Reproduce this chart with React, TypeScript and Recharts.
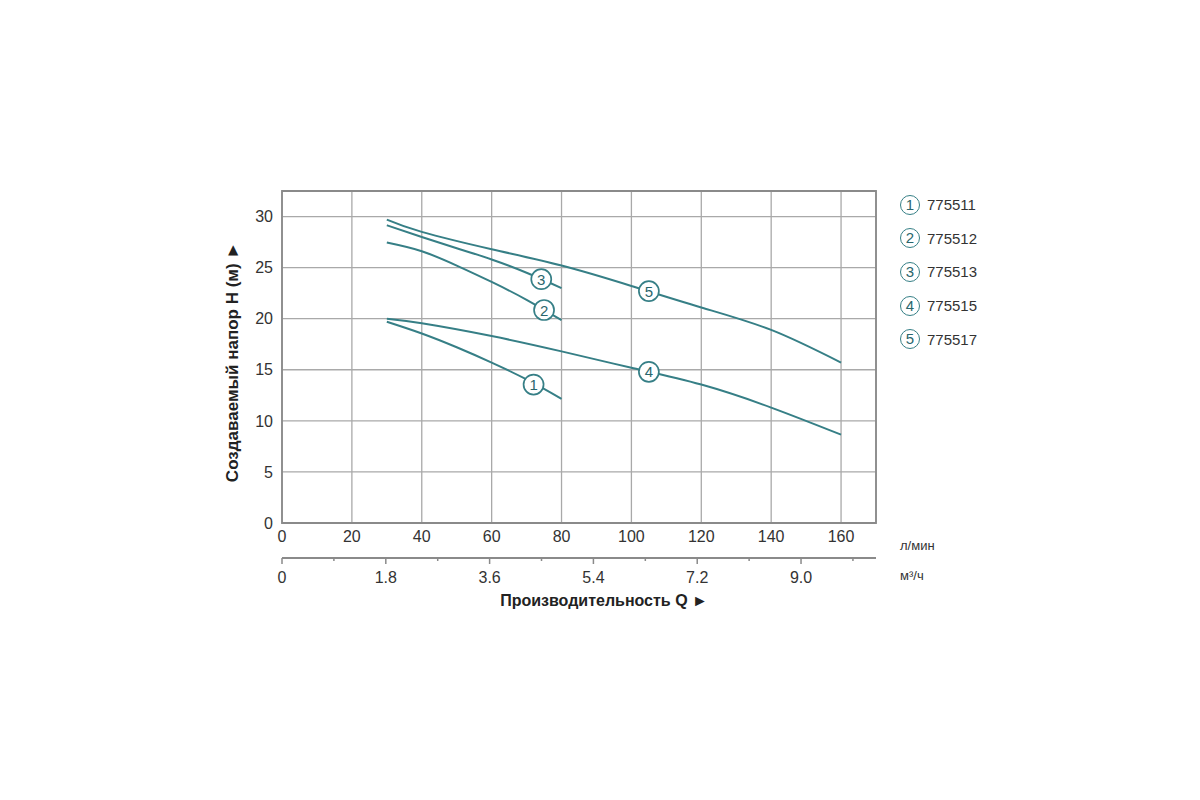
import { CartesianGrid, Label, Line, LineChart, ReferenceArea, ReferenceDot, XAxis, YAxis } from 'recharts';

const TEAL = '#367f86';
const TAG_TEXT = '#2a666d';
const GRID = '#a9a9a9';
const FRAME = '#8a8a8a';
const INK = '#333333';
const FONT = '"Liberation Sans", Arial, Helvetica, sans-serif';

// flow axis, l/min
const Q_LPM_TICKS = [0, 20, 40, 60, 80, 100, 120, 140, 160];
// flow axis, m3/h (major + minor ticks)
const Q_M3H_TICKS = [0, 0.9, 1.8, 2.7, 3.6, 4.5, 5.4, 6.3, 7.2, 8.1, 9.0, 9.9];
const Q_M3H_LABELS = [0, 1.8, 3.6, 5.4, 7.2, 9.0];
const H_TICKS = [0, 5, 10, 15, 20, 25, 30];

// pump curves, head H (m) vs flow Q (l/min)
const Q_SHORT = [30, 40, 50, 60, 70, 80];
const Q_LONG = [30, 40, 60, 80, 100, 120, 140, 160];
const H_775511 = [19.7, 18.55, 17.2, 15.7, 14.05, 12.15];
const H_775512 = [27.45, 26.6, 25.2, 23.6, 21.85, 19.85];
const H_775513 = [29.15, 28.0, 26.9, 25.8, 24.5, 23.0];
const H_775515 = [20.0, 19.55, 18.3, 16.8, 15.2, 13.55, 11.3, 8.65];
const H_775517 = [29.7, 28.5, 26.8, 25.2, 23.2, 21.1, 18.9, 15.7];

const MODELS = ['775511', '775512', '775513', '775515', '775517'];
const TAG_Q = [72, 75, 74.2, 105, 105];
const TAG_H = [13.55, 20.85, 23.87, 14.8, 22.7];

const SERIES = [
  { q: Q_SHORT, h: H_775511 },
  { q: Q_SHORT, h: H_775512 },
  { q: Q_SHORT, h: H_775513 },
  { q: Q_LONG, h: H_775515 },
  { q: Q_LONG, h: H_775517 }
].map((s, i) => ({
  name: MODELS[i],
  tag: String(i + 1),
  data: s.q.map((q, j) => ({ q, h: s.h[j] }))
}));

function CurveTag({ cx, cy, n }: { cx?: number; cy?: number; n: string }) {
  if (cx == null || cy == null) return null;
  return (
    <g>
      <circle cx={cx} cy={cy} r={10} fill="#fff" stroke={TEAL} strokeWidth={1.7} />
      <text x={cx} y={cy + 5.5} textAnchor="middle" fontSize={15} fill={TAG_TEXT} fontFamily={FONT}>
        {n}
      </text>
    </g>
  );
}

function M3hTick(props: any) {
  const { x, y, payload } = props;
  const v = payload.value as number;
  const major = Q_M3H_LABELS.includes(v);
  return (
    <g>
      <line x1={x} x2={x} y1={y} y2={y + (major ? 6 : 3)} stroke={FRAME} strokeWidth={1.5} />
      {major && (
        <text x={x} y={y + 25} textAnchor="middle" fontSize={16} fill={INK} fontFamily={FONT}>
          {v === 0 ? '0' : v.toFixed(1)}
        </text>
      )}
    </g>
  );
}

function Legend() {
  return (
    <div style={{ position: 'absolute', left: 900, top: 188, fontFamily: FONT }}>
      {SERIES.map((s) => (
        <div key={s.name} style={{ display: 'flex', alignItems: 'center', height: 33.6 }}>
          <div
            style={{
              width: 18,
              height: 18,
              borderRadius: '50%',
              border: `1.7px solid ${TEAL}`,
              color: TAG_TEXT,
              fontSize: 15,
              lineHeight: '18px',
              textAlign: 'center'
            }}
          >
            {s.tag}
          </div>
          <span style={{ marginLeft: 7, fontSize: 15, color: INK }}>{s.name}</span>
        </div>
      ))}
    </div>
  );
}

export default function App() {
  return (
    <div style={{ position: 'absolute', left: 0, top: 0, width: 1200, height: 800, background: '#fff' }}>
      <LineChart width={1200} height={800} margin={{ top: 191, right: 324, bottom: 182, left: 200 }}>
        <CartesianGrid stroke={GRID} strokeWidth={1.3} />
        <XAxis
          dataKey="q"
          type="number"
          domain={[0, 170]}
          ticks={Q_LPM_TICKS}
          interval={0}
          height={35}
          tickSize={0}
          tickMargin={8}
          tickLine={false}
          axisLine={false}
          tick={{ fill: INK, fontSize: 16, fontFamily: FONT }}
        >
          <Label
            content={({ viewBox }: any) => (
              <text
                x={viewBox.x + viewBox.width + 24}
                y={viewBox.y + 27}
                fontSize={13}
                fill={INK}
                fontFamily={FONT}
              >
                л/мин
              </text>
            )}
          />
        </XAxis>
        <XAxis
          xAxisId="m3"
          dataKey="m"
          type="number"
          domain={[0, 10.3]}
          allowDataOverflow
          ticks={Q_M3H_TICKS}
          interval={0}
          height={60}
          tickSize={0}
          tickMargin={0}
          tickLine={false}
          axisLine={{ stroke: FRAME, strokeWidth: 2 }}
          tick={(p: any) => <M3hTick {...p} />}
        >
          <Label
            content={({ viewBox }: any) => (
              <g fontFamily={FONT}>
                <text x={viewBox.x + viewBox.width + 24} y={viewBox.y + 22} fontSize={13} fill={INK}>
                  м³/ч
                </text>
                <text
                  x={viewBox.x + 322}
                  y={viewBox.y + 48}
                  textAnchor="middle"
                  fontSize={16}
                  fontWeight="bold"
                  fill="#222"
                >
                  Производительность Q ►
                </text>
              </g>
            )}
          />
        </XAxis>
        <YAxis
          type="number"
          domain={[0, 32.5]}
          ticks={H_TICKS}
          interval={0}
          width={82}
          tickSize={0}
          tickMargin={9}
          tickLine={false}
          axisLine={false}
          tick={{ fill: INK, fontSize: 16, fontFamily: FONT }}
        >
          <Label
            content={({ viewBox }: any) => {
              const cx = viewBox.x + 32;
              const cy = viewBox.y + viewBox.height / 2 + 5;
              return (
                <text
                  x={cx}
                  y={cy}
                  transform={`rotate(-90, ${cx}, ${cy})`}
                  textAnchor="middle"
                  dominantBaseline="central"
                  fontSize={17}
                  fontWeight="bold"
                  fill="#222"
                  fontFamily={FONT}
                >
                  Создаваемый напор H (м) ►
                </text>
              );
            }}
          />
        </YAxis>
        <ReferenceArea x1={0} x2={170} y1={0} y2={32.5} fill="none" stroke={FRAME} strokeWidth={1.8} />
        {SERIES.map((s) => (
          <Line
            key={s.name}
            data={s.data}
            dataKey="h"
            name={s.name}
            type="natural"
            stroke={TEAL}
            strokeWidth={2}
            dot={false}
            activeDot={false}
            isAnimationActive={false}
          />
        ))}
        {SERIES.map((s, i) => (
          <ReferenceDot
            key={`tag-${s.name}`}
            x={TAG_Q[i]}
            y={TAG_H[i]}
            r={10}
            shape={(p: any) => <CurveTag cx={p.cx} cy={p.cy} n={s.tag} />}
          />
        ))}
      </LineChart>
      <Legend />
    </div>
  );
}
